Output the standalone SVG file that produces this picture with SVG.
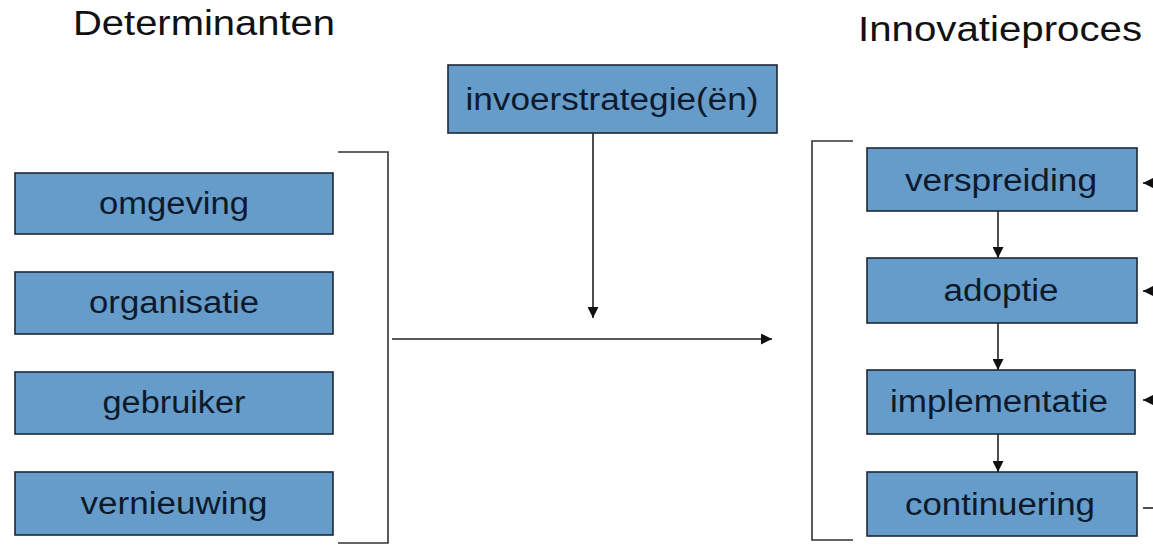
<svg xmlns="http://www.w3.org/2000/svg" width="1153" height="545" viewBox="0 0 1153 545">
<style>
.box{fill:#659cca;stroke:#1c2836;stroke-width:1.6}
.lbl{font-family:"Liberation Sans",Arial,sans-serif;font-size:31px;fill:#0e1a2c;text-anchor:middle}
.title{font-family:"Liberation Sans",Arial,sans-serif;font-size:35px;fill:#111}
.ln{fill:none;stroke:#222;stroke-width:1.6}
.br{fill:none;stroke:#333;stroke-width:1.6}
</style>
<defs>
<marker id="ah" viewBox="0 0 10 10" refX="10" refY="5" markerWidth="11" markerHeight="11" markerUnits="userSpaceOnUse" orient="auto">
<path d="M0,0 L10,5 L0,10 z" fill="#111"/>
</marker>
</defs>
<rect width="1153" height="545" fill="#fff"/>
<text class="title" x="73" y="35" textLength="262" lengthAdjust="spacingAndGlyphs">Determinanten</text>
<text class="title" x="858" y="41" textLength="284" lengthAdjust="spacingAndGlyphs">Innovatieproces</text>
<g id="omgeving"><rect class="box" x="15" y="173" width="318" height="61"/><text class="lbl" x="174" y="214" textLength="150" lengthAdjust="spacingAndGlyphs">omgeving</text></g>
<g id="organisatie"><rect class="box" x="15" y="272" width="318" height="62"/><text class="lbl" x="174" y="313" textLength="170" lengthAdjust="spacingAndGlyphs">organisatie</text></g>
<g id="gebruiker"><rect class="box" x="15" y="372" width="318" height="62"/><text class="lbl" x="174" y="413" textLength="143" lengthAdjust="spacingAndGlyphs">gebruiker</text></g>
<g id="vernieuwing"><rect class="box" x="15" y="472" width="318" height="63"/><text class="lbl" x="174" y="514" textLength="187" lengthAdjust="spacingAndGlyphs">vernieuwing</text></g>
<g id="invoerstrategie"><rect class="box" x="448" y="65" width="329" height="68"/><text class="lbl" x="612" y="110" textLength="293" lengthAdjust="spacingAndGlyphs">invoerstrategie(ën)</text></g>
<g id="verspreiding"><rect class="box" x="867" y="148" width="270" height="63"/><text class="lbl" x="1001" y="191" textLength="192" lengthAdjust="spacingAndGlyphs">verspreiding</text></g>
<g id="adoptie"><rect class="box" x="867" y="258" width="270" height="65"/><text class="lbl" x="1001" y="301" textLength="115" lengthAdjust="spacingAndGlyphs">adoptie</text></g>
<g id="implementatie"><rect class="box" x="867" y="370" width="268" height="64"/><text class="lbl" x="999" y="412" textLength="218" lengthAdjust="spacingAndGlyphs">implementatie</text></g>
<g id="continuering"><rect class="box" x="867" y="472" width="270" height="64"/><text class="lbl" x="1000" y="515" textLength="190" lengthAdjust="spacingAndGlyphs">continuering</text></g>
<g id="connectors">
<path class="br" d="M338,152 H388 V543 H338"/>
<path class="br" d="M853,141 H812 V540 H853"/>
<path class="ln" d="M392,339 H772" marker-end="url(#ah)"/>
<path class="ln" d="M593,133 V318" marker-end="url(#ah)"/>
<path class="ln" d="M998,211 V258" marker-end="url(#ah)"/>
<path class="ln" d="M998,323 V370" marker-end="url(#ah)"/>
<path class="ln" d="M998,434 V472" marker-end="url(#ah)"/>
<path class="ln" d="M1153,183 H1143" marker-end="url(#ah)"/>
<path class="ln" d="M1153,291 H1143" marker-end="url(#ah)"/>
<path class="ln" d="M1153,400 H1143" marker-end="url(#ah)"/>
<path class="ln" d="M1143,508 H1153"/>
</g>
</svg>
